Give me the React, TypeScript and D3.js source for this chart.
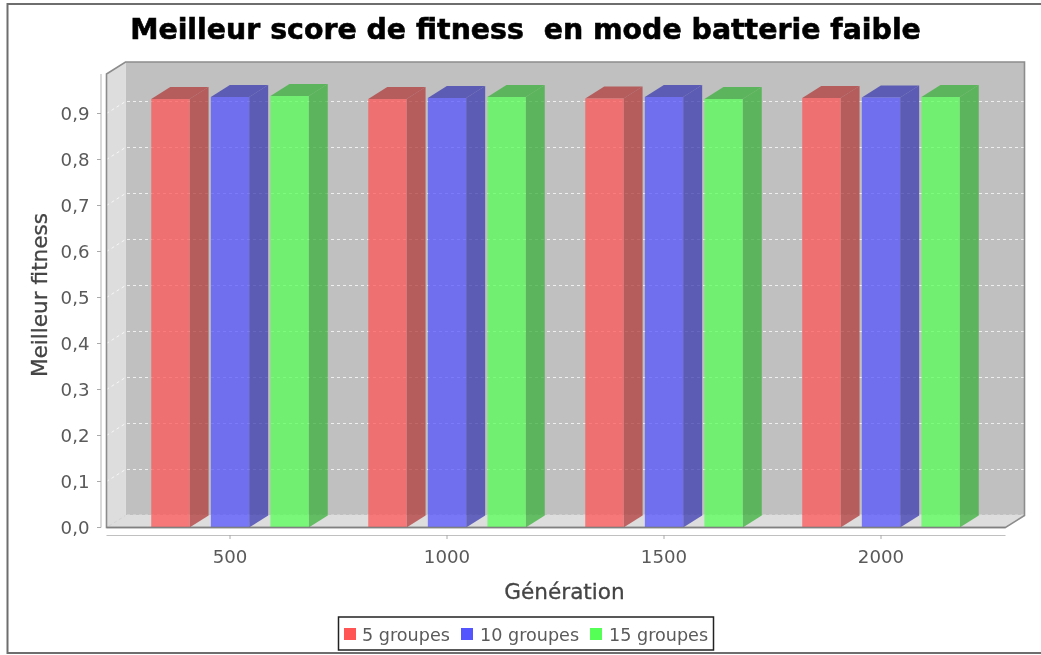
import React from "react";
import * as d3 from "d3";

const generations = ["500", "1000", "1500", "2000"];
const seriesNames = ["5 groupes", "10 groupes", "15 groupes"];
const values5 = [0.9315, 0.9315, 0.9326, 0.9337];
const values10 = [0.9359, 0.9337, 0.9359, 0.9348];
const values15 = [0.938, 0.9359, 0.9315, 0.9359];
const seriesValues = [values5, values10, values15];
const frontColors = ["#FF5555", "#5555FF", "#55FF55"];
const sideColors = ["#B23B3B", "#3B3BB2", "#3BB23B"];
const legendColors = ["#FF5555", "#5555FF", "#55FF55"];
const yTicks = [0, 0.1, 0.2, 0.3, 0.4, 0.5, 0.6, 0.7, 0.8, 0.9];

const W = 1041;
const H = 655;
const DX = 19;
const DY = 12;
const plotLeft = 106.5;
const plotRight = 1005.5;
const plotBottom = 527.5;
const plotTop = 74;
const FONT = "'DejaVu Sans', Verdana, sans-serif";

export default function App() {
  const y = d3.scaleLinear().domain([0, 1]).range([plotBottom, plotBottom - 460]);
  const xGroup = d3.scaleBand<string>().domain(generations).range([121.5, 989.5]);
  const xBar = d3
    .scaleBand<string>()
    .domain(seriesNames)
    .range([0, xGroup.bandwidth()])
    .paddingInner(0.357)
    .paddingOuter(0.499);
  const line = d3.line();
  const poly = (pts: [number, number][]) => line(pts) + "Z";
  return (
    <svg
      width={W}
      height={H}
      viewBox={`0 0 ${W} ${H}`}
      style={{ position: "absolute", left: 0, top: 0, display: "block", background: "#fff" }}
    >
      <defs>
        <filter id="soft" x="-2%" y="-2%" width="104%" height="104%">
          <feGaussianBlur stdDeviation="0.45" />
        </filter>
      </defs>
      <g filter="url(#soft)">
        <path d={`M1045,4L7.5,4L7.5,653L1045,653`} fill="none" stroke="#6e6e6e" strokeWidth={2} />
        <text x={525.5} y={38.5} textAnchor="middle" fontFamily={FONT} fontWeight="bold" fontSize={28.4} fill="#000" stroke="#000" strokeWidth={0.6} xmlSpace="preserve">
          {"Meilleur score de fitness  en mode batterie faible"}
        </text>

        {/* walls */}
        <path d={poly([[plotLeft + DX, plotTop - DY], [plotRight + DX, plotTop - DY], [plotRight + DX, plotBottom - DY], [plotLeft + DX, plotBottom - DY]])} fill="#C0C0C0" />
        <path d={poly([[plotLeft, plotTop], [plotLeft + DX, plotTop - DY], [plotLeft + DX, plotBottom - DY], [plotLeft, plotBottom]])} fill="#DDDDDD" />
        <path d={poly([[plotLeft, plotBottom], [plotLeft + DX, plotBottom - DY], [plotRight + DX, plotBottom - DY], [plotRight, plotBottom]])} fill="#DDDDDD" />
        <path d={`M${plotLeft},${plotBottom}L${plotLeft + DX},${plotBottom - DY}`} stroke="#cfcfcf" fill="none" />

        {/* grid */}
        {yTicks.map((t) => (
          <path
            key={t}
            d={`M${plotLeft},${y(t)}L${plotLeft + DX},${y(t) - DY}L${plotRight + DX},${y(t) - DY}`}
            fill="none"
            stroke={t === 0 ? "#DDDDDD" : "#fff"}
            strokeOpacity={t === 0 ? 1 : 0.75}
            strokeWidth={t === 0 ? 2 : 1}
            strokeDasharray="3,3"
          />
        ))}

        {/* frame of the plot */}
        <path
          d={`M${plotLeft},${plotBottom}L${plotLeft},${plotTop}L${plotLeft + DX},${plotTop - DY}L${plotRight + DX},${plotTop - DY}L${plotRight + DX},${plotBottom - DY}L${plotRight},${plotBottom}Z`}
          fill="none"
          stroke="#8c8c8c"
          strokeWidth={1.6}
        />

        {/* bars */}
        {generations.map((g, gi) =>
          seriesNames.map((s, si) => {
            const x0 = (xGroup(g) as number) + (xBar(s) as number);
            const x1 = x0 + xBar.bandwidth();
            const yT = y(seriesValues[si][gi]);
            const yB = y(0);
            return (
              <g key={g + s} fillOpacity={0.75}>
                <path d={poly([[x1, yT], [x1 + DX, yT - DY], [x1 + DX, yB - DY], [x1, yB]])} fill={sideColors[si]} />
                <path d={poly([[x0, yT], [x0 + DX, yT - DY], [x1 + DX, yT - DY], [x1, yT]])} fill={sideColors[si]} />
                <rect x={x0} y={yT} width={x1 - x0} height={yB - yT} fill={frontColors[si]} />
              </g>
            );
          })
        )}

        <path d={`M${plotLeft},${plotBottom}L${plotRight},${plotBottom}`} stroke="#808080" strokeWidth={1.6} fill="none" />

        {/* y axis */}
        <path d={`M101,${plotTop}L101,${plotBottom}`} stroke="#c0c0c0" strokeWidth={1.2} fill="none" />
        {yTicks.map((t) => (
          <g key={t}>
            <line x1={97} x2={101} y1={y(t)} y2={y(t)} stroke="#aaa" />
            <text x={89.5} y={y(t) + 6.5} textAnchor="end" fontFamily={FONT} fontSize={18.2} fill="#5a5a5a">
              {d3.format(".1f")(t).replace(".", ",")}
            </text>
          </g>
        ))}
        <text
          transform="translate(47,295) rotate(-90)"
          textAnchor="middle"
          fontFamily={FONT}
          fontSize={21.6}
          fill="#444"
          stroke="#444"
          strokeWidth={0.3}
        >
          Meilleur fitness
        </text>

        {/* x axis */}
        <path d={`M${plotLeft},535.5L${plotRight},535.5`} stroke="#c0c0c0" strokeWidth={1.2} fill="none" />
        {generations.map((g) => {
          const c = (xGroup(g) as number) + xGroup.bandwidth() / 2;
          return (
            <g key={g}>
              <line x1={c} x2={c} y1={535} y2={539} stroke="#aaa" />
              <text x={c} y={563} textAnchor="middle" fontFamily={FONT} fontSize={18.2} fill="#5a5a5a">
                {g}
              </text>
            </g>
          );
        })}
        <text x={564.5} y={599} textAnchor="middle" fontFamily={FONT} fontSize={21.6} fill="#444" stroke="#444" strokeWidth={0.3}>
          Génération
        </text>

        {/* legend */}
        <rect x={338.5} y={617} width={375} height={33} fill="#fff" stroke="#222" strokeWidth={1.5} />
        {seriesNames.map((s, i) => {
          const lx = [344, 461, 590][i];
          const tx = [362, 480, 609][i];
          return (
            <g key={s}>
              <rect x={lx} y={628} width={12} height={12} fill={legendColors[i]} />
              <text x={tx} y={641} fontFamily={FONT} fontSize={17.6} fill="#5a5a5a">
                {s}
              </text>
            </g>
          );
        })}
      </g>
    </svg>
  );
}
